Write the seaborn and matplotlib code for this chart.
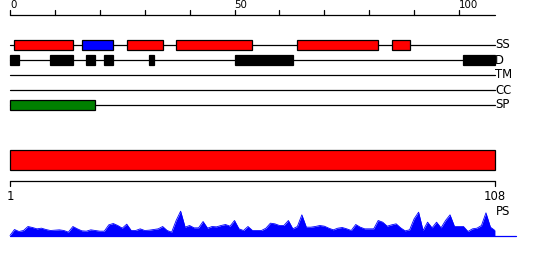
import numpy as np
import matplotlib
matplotlib.use("Agg")
import matplotlib.pyplot as plt
import seaborn as sns

# ---------------- data ----------------
track_names = ["SS", "D", "TM", "CC", "SP"]
ss_start = [1, 16, 26, 37, 64, 85]
ss_end = [14, 23, 34, 54, 82, 89]
ss_kind = ["helix", "strand", "helix", "helix", "helix", "helix"]
d_start = [0, 9, 17, 21, 31, 50, 101]
d_end = [2, 14, 19, 23, 32, 63, 108]
tm_start, tm_end = [], []
cc_start, cc_end = [], []
sp_start = [0]
sp_end = [19]
domain_start = [0]
domain_end = [108]
seq_len = 108
top_ticks_major = [0, 50, 100]
top_ticks_minor = list(range(0, 101, 10))
bottom_ticks = [0, 108]
bottom_labels = ["1", "108"]
ps_values = [0, 18, 12, 15, 27, 24, 20, 22, 18, 15, 16, 17, 15, 10, 27, 20, 14, 13, 17, 15,
             13, 13, 32, 36, 30, 22, 34, 15, 15, 20, 15, 16, 18, 20, 27, 15, 10, 45, 73, 25,
             30, 23, 23, 42, 22, 27, 26, 30, 33, 28, 45, 20, 15, 27, 15, 15, 15, 22, 37, 35,
             30, 30, 45, 20, 27, 62, 25, 25, 27, 30, 28, 22, 17, 22, 24, 20, 15, 33, 25, 20,
             20, 20, 45, 40, 28, 32, 35, 23, 14, 17, 50, 70, 15, 40, 23, 40, 23, 45, 62, 27,
             27, 27, 12, 20, 22, 30, 68, 25, 15]
ps_positions = list(range(len(ps_values)))

# ---------------- style ----------------
sns.set_style("white")
plt.rcParams["font.family"] = ["DejaVu Sans"]
plt.rcParams["text.color"] = "black"

W, H = 550, 260
fig = plt.figure(figsize=(W / 100, H / 100), dpi=100)
ax = fig.add_axes([0, 0, 1, 1])
px = 4.49  # pixels per residue
x0 = 10
ax.set_xlim(-x0 / px, (W - x0) / px)
ax.set_ylim(H, 0)
ax.axis("off")

lw = 0.9
fs = 8.4

# top ruler
axis_y = 15
ax.plot([0, seq_len], [axis_y, axis_y], color="black", lw=lw)
for t in top_ticks_minor:
    ax.plot([t, t], [axis_y, axis_y - 5], color="black", lw=lw)
for t in top_ticks_major:
    ax.text(t, axis_y - 6.5, str(t), ha="left", va="baseline", fontsize=7.4,
            color="black")

# tracks
row_y = [45, 60, 75, 90, 105]
box_h = 10
kind_color = {"helix": "#ff0000", "strand": "#0000ff"}
track_data = {
    "SS": (ss_start, ss_end, [kind_color[k] for k in ss_kind]),
    "D": (d_start, d_end, ["black"] * len(d_start)),
    "TM": (tm_start, tm_end, []),
    "CC": (cc_start, cc_end, []),
    "SP": (sp_start, sp_end, ["#008000"] * len(sp_start)),
}
for name, y in zip(track_names, row_y):
    ax.plot([0, seq_len], [y, y], color="black", lw=lw, zorder=1)
    s, e, cols = track_data[name]
    if s:
        ax.barh([y] * len(s), [b - a for a, b in zip(s, e)], left=s, height=box_h,
                color=cols, edgecolor="black", linewidth=lw, zorder=2)
    ax.text(seq_len, y, name, ha="left", va="center", fontsize=fs, color="black")

# domain bar
ax.barh([160], [b - a for a, b in zip(domain_start, domain_end)], left=domain_start,
        height=20, color="#ff0000", edgecolor="black", linewidth=lw)

# bottom ruler
by = 181
ax.plot([0, seq_len], [by, by], color="black", lw=lw)
for t, lab in zip(bottom_ticks, bottom_labels):
    ax.plot([t, t], [by, by + 4.5], color="black", lw=lw)
    ax.text(t, by + 19, lab, ha="center", va="baseline", fontsize=fs, color="black")

# PS profile
base = 235.5
scale = 1 / 3
ps_y = [base - v * scale for v in ps_values]
ax.fill_between(ps_positions, ps_y, base, color="#0000ff", linewidth=0, zorder=2)
sns.lineplot(x=ps_positions, y=ps_y, ax=ax, color="#0000ff", lw=0.6, legend=False)
ax.plot([0, (516 - x0) / px], [base, base], color="#0000ff", lw=lw)
ax.text(seq_len + 0.3, 215, "PS", ha="left", va="baseline", fontsize=fs, color="black")

fig.savefig("out.png", dpi=100)
